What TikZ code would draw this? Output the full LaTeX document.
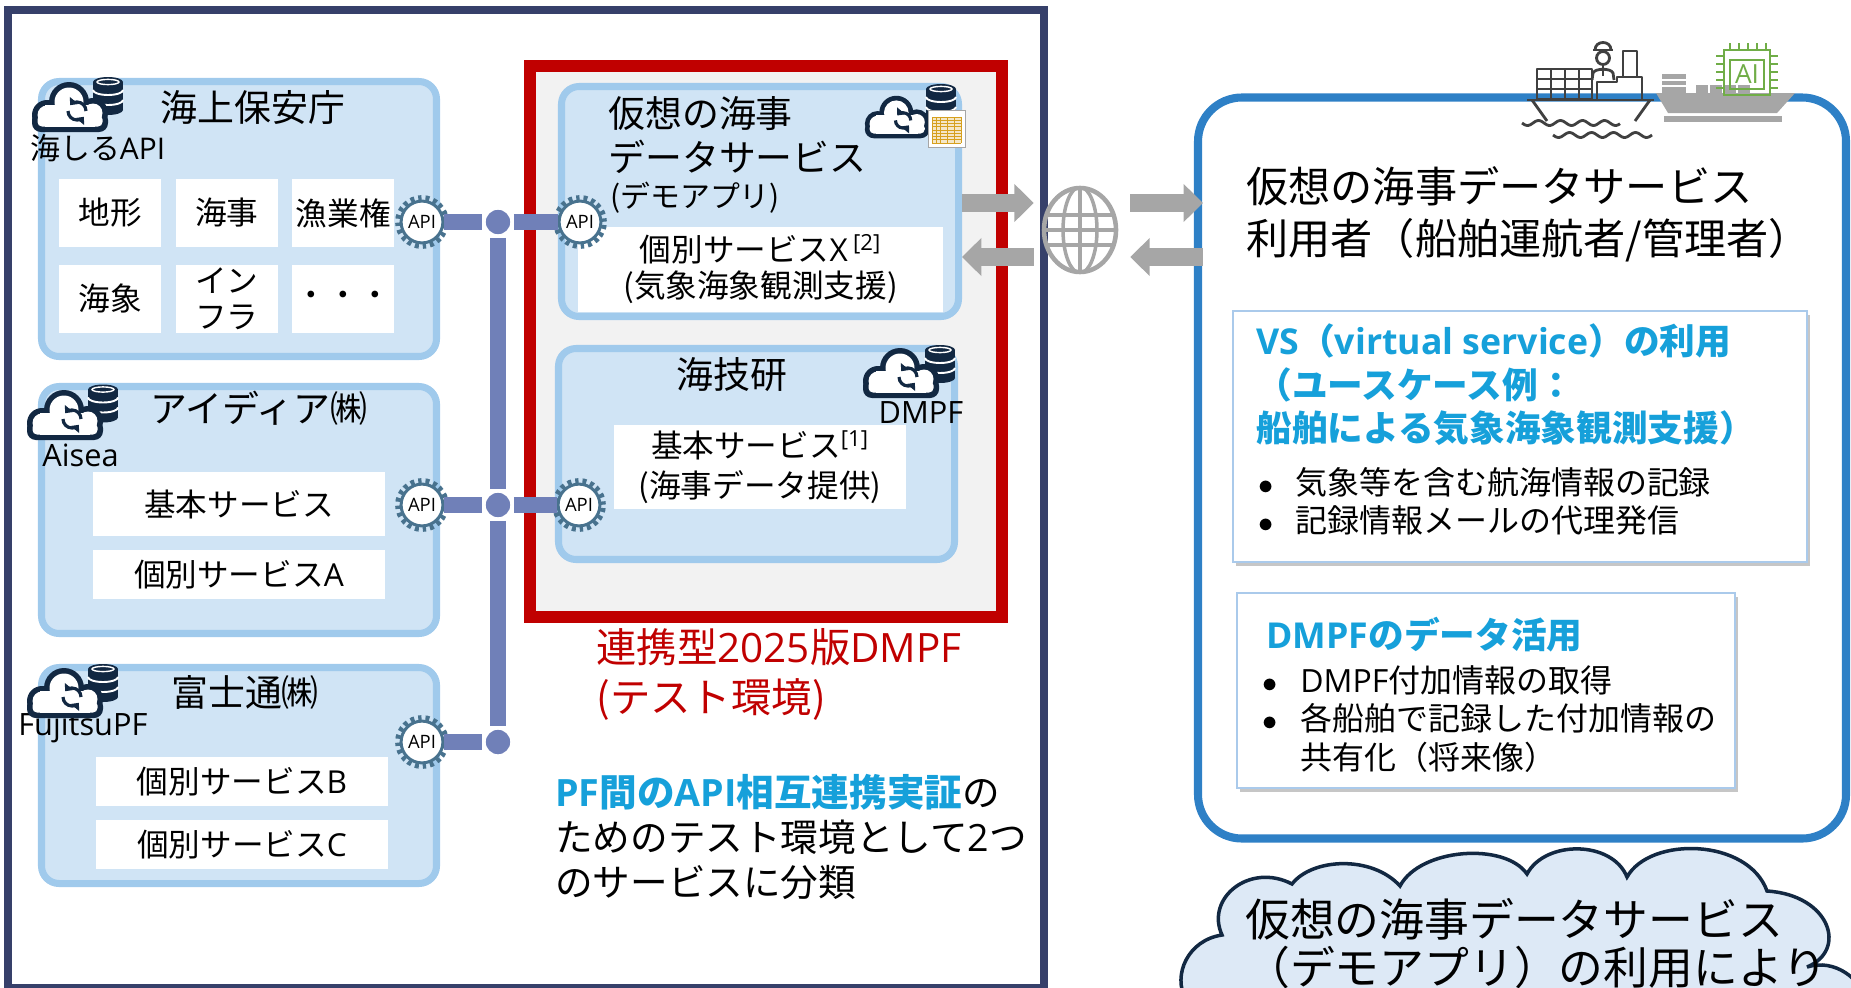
\documentclass[tikz,border=0pt]{standalone}
\usepackage{fontspec}
\setmainfont{Noto Sans CJK JP}
\newfontfamily\lat{Open Sans}
\usetikzlibrary{positioning,arrows.meta,calc,shapes.geometric,shadows}

\definecolor{fednavy}{RGB}{54,64,106}
\definecolor{orgfill}{RGB}{208,228,245}
\definecolor{orgline}{RGB}{160,202,236}
\definecolor{tfred}{RGB}{192,0,0}
\definecolor{tfgray}{RGB}{242,242,242}
\definecolor{busc}{RGB}{112,128,184}
\definecolor{gearc}{RGB}{72,114,142}
\definecolor{arrgray}{RGB}{166,166,166}
\definecolor{userblue}{RGB}{46,128,198}
\definecolor{txtblue}{RGB}{22,160,218}
\definecolor{cardline}{RGB}{170,202,235}
\definecolor{iconnavy}{RGB}{18,40,66}
\definecolor{notefill}{RGB}{221,233,246}
\definecolor{chipgreen}{RGB}{112,173,71}
\definecolor{shipdark}{RGB}{64,64,64}
\definecolor{tablegold}{RGB}{214,160,30}

\newcommand{\unitpx}{0.02cm}
\newcommand{\fsz}[2]{\fontsize{#1pt}{#2pt}\selectfont}

\begin{document}
\begin{tikzpicture}[x=0.02cm, y=-0.02cm,
    org/.style={draw=orgline, fill=orgfill, line width=4pt, rounded corners=10pt},
    cell/.style={fill=white, inner sep=0pt, align=center, font=\fsz{18}{20.5}},
    orgname/.style={inner sep=0pt, font=\fsz{21}{25}},
    tag/.style={inner sep=0pt, anchor=west, font=\fsz{17.5}{20}},
    api/.style={circle, fill=white, draw=gearc, line width=1.7pt, minimum size=23.8pt, inner sep=0pt,
      font=\lat\fsz{10.5}{12}, preaction={draw=gearc, line width=6.8pt, dash pattern=on 1.88pt off 1.87pt}},
    jn/.style={circle, fill=busc, draw=white, line width=2pt, minimum size=16pt, inner sep=0pt},
    bus/.style={draw=busc, line width=9pt},
    fat/.style={draw=arrgray, line width=10pt, -{Triangle[length=11pt, width=21pt]}},
    card/.style={draw=cardline, fill=white, line width=1.2pt,
      drop shadow={shadow xshift=1.5pt, shadow yshift=-2.5pt, opacity=.45}},
    head/.style={inner sep=0pt, anchor=west, align=left, text=txtblue, font=\bfseries\fsz{20.3}{24.8}},
    list/.style={inner sep=0pt, anchor=west, align=left, font=\fsz{18.2}{21.8}},
    dbicon/.pic={
      \fill[iconnavy] (-15,-14) rectangle (15,14);
      \fill[iconnavy] (0,-14) ellipse[x radius=15, y radius=5];
      \fill[iconnavy] (0,14) ellipse[x radius=15, y radius=5];
      \draw[white, line width=1.1pt] (-15,-6) arc[start angle=180, end angle=0, x radius=15, y radius=5]
        (-15,4) arc[start angle=180, end angle=0, x radius=15, y radius=5];
      \draw[white, line width=.8pt] (0,-14) ellipse[x radius=11, y radius=2.6];
    },
    cloudicon/.pic={
      \fill[iconnavy] (-24,8) circle[radius=15];
      \fill[iconnavy] (-2,-5) circle[radius=20];
      \fill[iconnavy] (22,6) circle[radius=15];
      \fill[iconnavy, rounded corners=5pt] (-39,4) rectangle (37,25);
      \fill[white] (-24,8) circle[radius=9.5];
      \fill[white] (-2,-5) circle[radius=14.5];
      \fill[white] (22,6) circle[radius=9.5];
      \fill[white, rounded corners=2.5pt] (-33.5,8) rectangle (31.5,19.5);
      \fill[white] (-26,-2) rectangle (24,19.5);
      \draw[iconnavy, line width=1.8pt, -{Triangle[length=3.5pt, width=6pt]}]
        (15,4) arc[start angle=0, end angle=-140, radius=9];
      \draw[iconnavy, line width=1.8pt, -{Triangle[length=3.5pt, width=6pt]}]
        (-3,4) arc[start angle=180, end angle=40, radius=9];
    },
  ]
  \useasboundingbox (0,0) rectangle (1851,987);

  % federation frame and test environment
  \node[draw=fednavy, line width=4.5pt, minimum width=1036*\unitpx, minimum height=978*\unitpx] (fed) at (526,499) {};
  \node[draw=tfred, fill=tfgray, line width=6.8pt, minimum width=472*\unitpx, minimum height=551*\unitpx] (tenv) at (766,341.5) {};

  % platforms on the left
  \node[org, minimum width=395*\unitpx, minimum height=275*\unitpx] (jcg) at (239,219) {};
  \node[org, minimum width=395*\unitpx, minimum height=247*\unitpx] (idea) at (239,510) {};
  \node[org, minimum width=395*\unitpx, minimum height=216*\unitpx] (fjt) at (239,775.5) {};

  \node[orgname] (jcgT) at (253,107) {海上保安庁};
  \node[tag, font=\fsz{17}{20}] (jcgS) at (30,148) {海しる{\lat API}};
  \node[cell, minimum width=102*\unitpx, minimum height=68*\unitpx] (c11) at (110,213) {地形};
  \node[cell, minimum width=102*\unitpx, minimum height=68*\unitpx, right=0.28cm of c11] (c12) {海事};
  \node[cell, minimum width=102*\unitpx, minimum height=68*\unitpx, right=0.28cm of c12] (c13) {漁業権};
  \node[cell, minimum width=102*\unitpx, minimum height=68*\unitpx, below=0.34cm of c11] (c21) {海象};
  \node[cell, minimum width=102*\unitpx, minimum height=68*\unitpx, right=0.28cm of c21] (c22) {イン\\フラ};
  \node[cell, minimum width=102*\unitpx, minimum height=68*\unitpx, right=0.28cm of c22] (c23) {・・・};

  \node[orgname] (ideaT) at (259,408) {アイディア㈱};
  \node[tag, font=\lat\fsz{17.5}{20}] (ideaS) at (42,455) {Aisea};
  \node[cell, minimum width=292*\unitpx, minimum height=64*\unitpx] (i1) at (239,504) {基本サービス};
  \node[cell, minimum width=292*\unitpx, minimum height=49*\unitpx, below=0.26cm of i1] (i2) {個別サービス{\lat A}};

  \node[orgname] (fjtT) at (245,692) {富士通㈱};
  \node[tag, font=\lat\fsz{17.5}{20}] (fjtS) at (18,728) {FujitsuPF};
  \node[cell, minimum width=292*\unitpx, minimum height=49*\unitpx] (f1) at (242,781.5) {個別サービス{\lat B}};
  \node[cell, minimum width=292*\unitpx, minimum height=49*\unitpx, below=0.26cm of f1] (f2) {個別サービス{\lat C}};

  % services inside the test environment
  \node[org, minimum width=397*\unitpx, minimum height=230*\unitpx] (vds) at (760,201.5) {};
  \node[orgname, anchor=west, align=left] (vdsT) at (608,135) {仮想の海事\\データサービス};
  \node[tag, font=\fsz{17}{20}] (vdsS) at (610,198) {(デモアプリ)};
  \node[cell, minimum width=365*\unitpx, minimum height=85*\unitpx] (vdsX) at (760.5,269.5)
    {個別サービス{\lat X}\,\textsuperscript{\lat[2]}\\(気象海象観測支援)};

  \node[org, minimum width=396*\unitpx, minimum height=211*\unitpx] (nmri) at (756.5,454) {};
  \node[orgname] (nmriT) at (732,375) {海技研};
  \node[tag, anchor=center, font=\lat\fsz{17.5}{20}] (nmriS) at (921,413) {DMPF};
  \node[cell, minimum width=292*\unitpx, minimum height=84*\unitpx, font=\fsz{18}{22.5}] (nmriB) at (760,467)
    {基本サービス\textsuperscript{\lat[1]}\\(海事データ提供)};

  % platform icons
  \pic at (108,96) {dbicon};      \pic at (71,107) {cloudicon};
  \pic at (103,403.5) {dbicon};   \pic at (66,415) {cloudicon};
  \pic at (103,683) {dbicon};     \pic at (66,693) {cloudicon};
  \pic at (940,364) {dbicon};     \pic at (902,373) {cloudicon};
  \pic at (941,103) {dbicon};     \pic[scale=.85] at (898,117) {cloudicon};
  \draw[black!35, fill=white, line width=.5pt] (928,110) rectangle (965,147);
  \fill[tablegold!25] (932,117) rectangle (961,143);
  \foreach \ty in {117,120.25,...,143} \draw[tablegold, line width=.4pt] (932,\ty) -- (961,\ty);
  \foreach \tx in {932,936,940,947,954,961} \draw[tablegold, line width=.4pt] (\tx,117) -- (\tx,143);

  % API gateways and the shared bus
  \node[api] (apiK) at (422,222) {API};
  \node[api] (apiI) at (422,505) {API};
  \node[api] (apiF) at (422,742) {API};
  \node[api] (apiV) at (580,222) {API};
  \node[api] (apiM) at (579,505) {API};
  \node[jn] (j1) at (498,222) {};
  \node[jn] (j2) at (498,505) {};
  \node[jn] (j3) at (498,742) {};
  \draw[bus] (apiK) -- (j1) -- (apiV);
  \draw[bus] (apiI) -- (j2) -- (apiM);
  \draw[bus] (apiF) -- (j3);
  \draw[bus] (j1) -- (j2) -- (j3);

  \node[inner sep=0pt, anchor=west, align=left, text=tfred, font=\fsz{23}{28.5}] (tenvT) at (596,674)
    {連携型{\lat 2025}版{\lat DMPF}\\(テスト環境)};
  \node[inner sep=0pt, anchor=west, align=left, font=\fsz{21.4}{25.6}] (goal) at (555,837)
    {\textcolor{txtblue}{\bfseries{\lat PF}間の{\lat API}相互連携実証}の\\ためのテスト環境として{\lat 2}つ\\のサービスに分類};

  % users side
  \node[draw=userblue, line width=4.6pt, rounded corners=25pt, minimum width=648*\unitpx, minimum height=741*\unitpx] (user) at (1522,468) {};
  \node[inner sep=0pt, anchor=west, align=left, font=\fsz{24}{29.6}] (userT) at (1246,214)
    {仮想の海事データサービス\\利用者（船舶運航者/管理者）};

  \node[card, minimum width=574*\unitpx, minimum height=251*\unitpx] (vsc) at (1520,436.5) {};
  \node[head] (vsh) at (1256,385) {{\lat VS}（{\lat virtual service}）の利用\\（ユースケース例：\\船舶による気象海象観測支援）};
  \node[list] (vsl) at (1258,501)
    {\makebox[21pt][l]{$\bullet$}気象等を含む航海情報の記録\\\makebox[21pt][l]{$\bullet$}記録情報メールの代理発信};

  \node[card, minimum width=498*\unitpx, minimum height=195*\unitpx] (dmc) at (1486,690.5) {};
  \node[head] (dmh) at (1266,635) {{\lat DMPF}のデータ活用};
  \node[list] (dml) at (1262,719)
    {\makebox[21.6pt][l]{$\bullet$}{\lat DMPF}付加情報の取得\\\makebox[21.6pt][l]{$\bullet$}各船舶で記録した付加情報の\\\hspace*{21.6pt}共有化（将来像）};

  % network globe and exchange arrows
  \node[ellipse, draw=arrgray, line width=2.6pt, minimum width=72*\unitpx, minimum height=84*\unitpx,
    path picture={
      \draw[arrgray, line width=2pt] (path picture bounding box.north) -- (path picture bounding box.south);
      \draw[arrgray, line width=2pt] (path picture bounding box.center) ellipse[x radius=17, y radius=43];
      \foreach \dy in {-15,0,15}
        \draw[arrgray, line width=2pt] ($(path picture bounding box.west)+(0,\dy)$) -- ($(path picture bounding box.east)+(0,\dy)$);
    }] (globe) at (1080,230) {};
  \coordinate (lnU) at ($(globe.west)+(-8,-27)$);
  \coordinate (lnD) at ($(globe.west)+(-8,27)$);
  \coordinate (rnU) at ($(globe.east)+(12,-27)$);
  \coordinate (rnD) at ($(globe.east)+(12,27)$);
  \draw[fat] (vds.east |- lnU) -- (lnU);
  \draw[fat] (lnD) -- (vds.east |- lnD);
  \draw[fat] (rnU) -- ($(user.west |- rnU)+(9,0)$);
  \draw[fat] ($(user.west |- rnD)+(9,0)$) -- (rnD);

  % container ship with captain
  \begin{scope}[shipdark, line width=1.6pt, line join=round]
    \draw (1537,69) rectangle (1592,99);
    \draw (1551,69) -- (1551,99) (1565,69) -- (1565,99) (1579,69) -- (1579,99)
          (1537,79) -- (1592,79) (1537,89) -- (1592,89);
    \draw (1597,99) -- (1597,82) -- (1617,82) -- (1617,77) -- (1642,77) -- (1642,99);
    \draw (1623,77) -- (1623,51) -- (1637,51) -- (1637,77);
    \draw (1527,100) -- (1654,100);
    \draw (1532,100) -- (1547,121) (1650,100) -- (1635,121);
    \draw (1603,58) circle[radius=6.5];
    \draw (1593,50) -- (1613,50);
    \draw (1595,50) .. controls (1595,40) and (1611,40) .. (1611,50);
    \draw (1592,80) -- (1593,73) .. controls (1595,68) and (1611,68) .. (1613,73) -- (1614,80);
    \draw (1603,66) -- (1603,76);
    \draw plot[domain=0:98, samples=60] ({1522+\x}, {123+2.5*sin(\x*16.36)});
    \draw plot[domain=0:99, samples=60] ({1553+\x}, {135+2.5*sin(\x*16.36)});
  \end{scope}

  % cargo ship with AI chip
  \fill[arrgray] (1662,74) rectangle (1686,93);
  \draw[white, line width=1pt] (1662,80) -- (1686,80) (1662,86) -- (1686,86);
  \foreach \cx in {1696,1710,1724,1738} \fill[arrgray] (\cx,85) rectangle ++(12,8);
  \fill[arrgray] (1656,93) -- (1795,93) -- (1777,113) -- (1668,113) -- cycle;
  \fill[arrgray] (1664,116) rectangle (1782,122);
  \draw[chipgreen, line width=1pt] (1724,50) rectangle (1770,95);
  \draw[chipgreen, line width=.8pt] (1730,60) rectangle (1764,89);
  \foreach \cx in {1730,1739,1748,1757,1766} \draw[chipgreen, line width=.8pt] (\cx,43) -- (\cx,50);
  \foreach \cy in {56,64,72,80,88} \draw[chipgreen, line width=.8pt] (1716,\cy) -- (1724,\cy) (1770,\cy) -- (1778,\cy);
  \node[text=chipgreen, font=\lat\fsz{15}{16}, inner sep=0pt] (aichip) at (1747,74) {AI};

  % speech cloud at the bottom
  \draw[iconnavy, line width=2pt, fill=notefill]
    (1186,1000) .. controls (1172,975) and (1188,940) .. (1222,935)
    .. controls (1205,898) and (1250,862) .. (1292,884)
    .. controls (1312,858) and (1372,855) .. (1400,886)
    .. controls (1420,848) and (1505,842) .. (1527,874)
    .. controls (1545,840) and (1612,840) .. (1627,877)
    .. controls (1650,836) and (1748,838) .. (1767,891)
    .. controls (1830,895) and (1848,950) .. (1807,967)
    .. controls (1835,958) and (1862,980) .. (1865,1000)
    -- cycle;
  \node[inner sep=0pt, anchor=west, align=left, font=\fsz{25.5}{27.3}] (cnote) at (1245,944)
    {仮想の海事データサービス\\（デモアプリ）の利用により};
\end{tikzpicture}
\end{document}
